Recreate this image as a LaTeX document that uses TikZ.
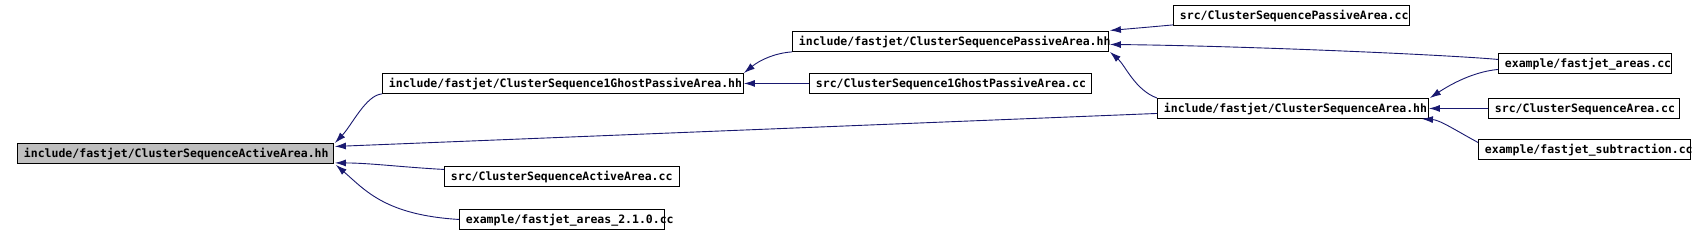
\documentclass[tikz,border=0pt]{standalone}
\usepackage{fontspec}
\newfontfamily\dxfont{DejaVu Sans Mono}
\usetikzlibrary{arrows.meta,calc}
\definecolor{edgeblue}{RGB}{25,25,112}
\definecolor{activegray}{RGB}{191,191,191}
\tikzset{
  filebox/.style={draw=black, line width=0.9pt, fill=white,
    font=\dxfont\bfseries\fontsize{11.5pt}{12pt}\selectfont,
    inner xsep=6.5pt, inner ysep=0pt, minimum height=20pt,
    text height=8.6pt, text depth=0pt, align=left, anchor=north west},
  incl/.style={draw=edgeblue, line width=0.9pt, -{Latex[length=11pt,width=7pt]}},
}
\begin{document}
\begin{tikzpicture}[x=1pt,y=-1pt]
\useasboundingbox[fill=white] (0,0) rectangle (1705,234);
% nodes
\node[filebox, fill=activegray, text width=303pt] (act) at (17,143) {\mbox{include/fastjet/ClusterSequenceActiveArea.hh}};
\node[filebox, text width=348pt] (g1) at (382,73) {\mbox{include/fastjet/ClusterSequence1GhostPassiveArea.hh}};
\node[filebox, text width=222pt] (sact) at (444,166) {\mbox{src/ClusterSequenceActiveArea.cc}};
\node[filebox, text width=192pt] (ex210) at (459,209) {\mbox{example/fastjet\_areas\_2.1.0.cc}};
\node[filebox, text width=303pt] (pas) at (792,31) {\mbox{include/fastjet/ClusterSequencePassiveArea.hh}};
\node[filebox, text width=269pt] (sg1) at (809,73) {\mbox{src/ClusterSequence1GhostPassiveArea.cc}};
\node[filebox, text width=223pt] (spas) at (1173,5) {\mbox{src/ClusterSequencePassiveArea.cc}};
\node[filebox, text width=258pt] (area) at (1157,98) {\mbox{include/fastjet/ClusterSequenceArea.hh}};
\node[filebox, text width=160pt] (exa) at (1498,53) {\mbox{example/fastjet\_areas.cc}};
\node[filebox, text width=178pt] (sarea) at (1488,98) {\mbox{src/ClusterSequenceArea.cc}};
\node[filebox, text width=199pt] (exs) at (1478,139) {\mbox{example/fastjet\_subtraction.cc}};
% connectors
\draw[incl] (g1.south west) .. controls (366,95) and (352,125) .. ($(act.north east)+(1,0)$);
\draw[incl] ($(area.west)+(0,5)$) -- ($(act.east)+(1,-7)$);
\draw[incl] (ex210.west) .. controls (385,215) and (365,190) .. ($(act.south east)+(2,1)$);
\draw[incl] ($(sact.west)+(0,-7)$) .. controls (400,167) and (370,163) .. ($(act.south east)+(1,-1)$);
\draw[incl] (sg1.west) -- (g1.east);
\draw[incl] (pas.south west) .. controls (775,53) and (760,60) .. (g1.north east);
\draw[incl] ($(spas.south west)+(0,-1)$) .. controls (1150,27) .. ($(pas.east)+(1,-11)$);
\draw[incl] ($(exa.west)+(0,-4)$) .. controls (1450,55) and (1250,46) .. ($(pas.east)+(1,3)$);
\draw[incl] (area.north west) .. controls (1135,90) and (1125,65) .. ($(pas.south east)+(1,0)$);
\draw[incl] ($(exa.west)+(0,6)$) .. controls (1470,72) and (1445,88) .. ($(area.north east)+(1,0)$);
\draw[incl] (sarea.west) -- (area.east);
\draw[incl] ($(exs.west)+(0,-7)$) .. controls (1455,130) and (1440,120) .. ($(area.south east)+(-7,0)$);
\end{tikzpicture}
\end{document}
